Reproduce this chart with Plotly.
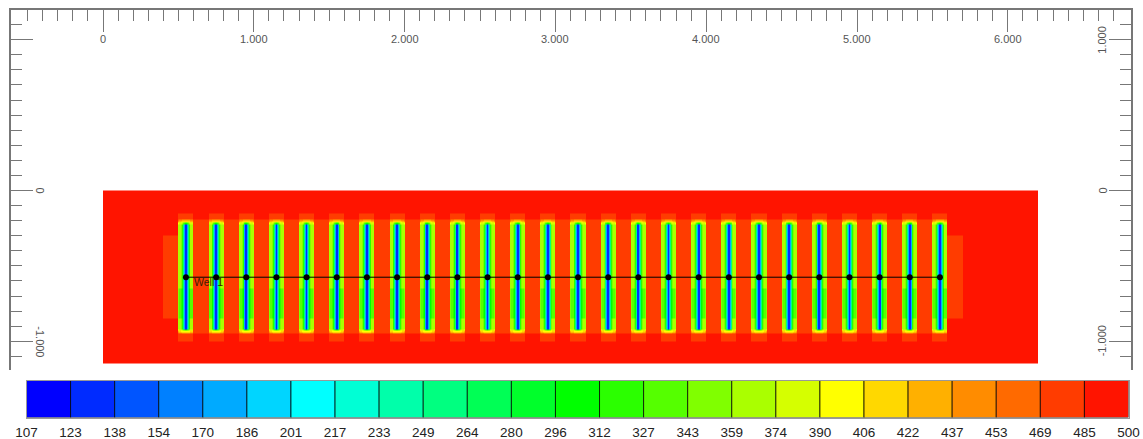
import numpy as np
import plotly.graph_objects as go

W, H = 1143, 439

# colour legend
legend_labels = [107,123,138,154,170,186,201,217,233,249,264,280,296,312,327,343,359,374,390,406,422,437,453,469,485,500]
legend_colors = ["#0000ff","#002bff","#0055ff","#0080ff","#00aaff","#00d5ff","#00ffff","#00ffd5","#00ffaa","#00ff80",
                 "#00ff55","#00ff2b","#00ff00","#2bff00","#55ff00","#80ff00","#aaff00","#d5ff00","#ffff00","#ffd800",
                 "#ffb000","#ff8c00","#ff6a00","#ff3c00","#ff1400"]
level_mid = [115,130,146,162,178,193,209,225,241,256,272,288,304,319,335,351,366,382,398,414,429,445,461,477,492]

# wells / fractures
well_x = [550,750,950,1150,1350,1550,1750,1950,2150,2350,2550,2750,2950,3150,3350,3550,3750,3950,4150,4350,4550,4750,4950,5150,5350,5550]
well_y = [-575]*26
well_name = "Well 1"

# grid rows (m), bottom to top
row_edges = [-1150,-1000,-950,-940,-930,-920,-850,-650,-500,-300,-225,-215,-205,-195,-150,0]
# fracture column half widths, centre outward (m)
frac_half = [6,12,18,24,30,44,50]
# colour level per fracture column, centre outward, for every row
frac_rows = [
    [24,24,24,24,24,24,24],
    [23,23,23,23,23,23,23],
    [20,20,20,20,21,21,22],
    [18,18,18,18,18,19,20],
    [12,13,14,16,17,17,18],
    [1,4,9,13,15,16,16],
    [1,4,9,12,13,14,15],
    [1,4,9,13,15,16,16],
    [1,4,9,13,15,16,16],
    [1,4,9,13,15,16,16],
    [12,13,14,16,17,17,18],
    [18,18,18,18,18,19,20],
    [20,20,20,20,21,21,22],
    [23,23,23,23,23,23,23],
    [24,24,24,24,24,24,24],
]
gap_rows =   [24,24,23,23,23,23,23,23,23,23,23,23,23,24,24]
block_rows = [24,24,24,24,24,24,23,23,23,24,24,24,24,24,24]
outer_rows = [24]*15
domain_x = [0,400,6200]

# tick values
x_major = [0,1000,2000,3000,4000,5000,6000]
x_major_text = ["0","1.000","2.000","3.000","4.000","5.000","6.000"]
x_minor = list(range(-500, 6800, 100))
y_major = [1000,0,-1000]
y_left_text = ["","0","-1.000"]
y_right_text = ["1.000","0","-1.000"]
y_minor = list(range(-1100, 1200, 100))

# ---- build the grid
half = np.array(frac_half)
frac_off = np.r_[-half[::-1], 0, half]
x_edges = [domain_x[0], domain_x[1]]
col_kind = ["outer"]
x_edges.append(well_x[0] - 50); col_kind.append("block")
for i, wx in enumerate(well_x):
    for off in frac_off[1:]:
        x_edges.append(wx + off)
    col_kind += [("f", k) for k in [6,5,4,3,2,1,0,0,1,2,3,4,5,6]]
    if i < len(well_x) - 1:
        x_edges.append(well_x[i + 1] - 50); col_kind.append("gap")
x_edges.append(well_x[-1] + 150); col_kind.append("block")
x_edges.append(domain_x[2]); col_kind.append("outer")

z = []
for r in range(len(row_edges) - 1):
    row = []
    for k in col_kind:
        if k == "outer":
            lv = outer_rows[r]
        elif k == "block":
            lv = block_rows[r]
        elif k == "gap":
            lv = gap_rows[r]
        else:
            lv = frac_rows[r][k[1]]
        row.append(level_mid[lv])
    z.append(row)

lo, hi = legend_labels[0], legend_labels[-1]
scale = []
for i, c in enumerate(legend_colors):
    scale.append([(legend_labels[i] - lo) / (hi - lo), c])
    scale.append([(legend_labels[i + 1] - lo) / (hi - lo), c])

# ---- pixel frame helpers (window pixels to figure fractions)
def fx(p): return p / W
def fy(p): return 1 - p / H
PX_PER_M = 0.1508
x_range = [(11 - 103) / PX_PER_M, (1131 - 103) / PX_PER_M]
y_range = [(190.5 - 370) / PX_PER_M, (190.5 - 10) / PX_PER_M]

fig = go.Figure()
fig.add_trace(go.Heatmap(x=x_edges, y=row_edges, z=z, colorscale=scale, zmin=lo, zmax=hi,
                         showscale=False, hoverinfo="skip", xaxis="x", yaxis="y"))
fig.add_trace(go.Scatter(x=well_x, y=well_y, mode="lines+markers", xaxis="x", yaxis="y",
                         line=dict(color="black", width=1), marker=dict(color="black", size=6),
                         showlegend=False, hoverinfo="skip"))
# invisible carrier for the right axis
fig.add_trace(go.Scatter(x=[well_x[0]], y=[well_y[0]], mode="markers", xaxis="x", yaxis="y2",
                         marker=dict(opacity=0), showlegend=False, hoverinfo="skip"))
fig.add_trace(go.Bar(x=[i + 0.5 for i in range(len(legend_colors))], y=[1] * len(legend_colors), width=1,
                     marker=dict(color=legend_colors, line=dict(color="rgba(0,0,0,0.75)", width=1)),
                     xaxis="x3", yaxis="y3", showlegend=False, hoverinfo="skip"))

axis_font = dict(family="Liberation Sans, Arial, sans-serif", size=11, color="#555555")
line_col = "#777777"
x_minor_style = dict(ticks="inside", ticklen=11, tickwidth=1, tickcolor=line_col, tickmode="array", tickvals=x_minor, showgrid=False)
y_minor_style = dict(ticks="inside", ticklen=11, tickwidth=1, tickcolor=line_col, tickmode="array", tickvals=y_minor, showgrid=False)

annotations = [dict(x=600, y=-605, xref="x", yref="y", text=well_name, showarrow=False, xanchor="left", yanchor="middle",
                    xshift=-1, font=dict(family="Liberation Sans, Arial, sans-serif", size=10.5, color="#402000"))]
for v, t in zip(x_major, x_major_text):
    annotations.append(dict(x=v, y=fy(39.5), xref="x", yref="paper", text=t, showarrow=False, xanchor="center", yanchor="middle", font=axis_font))
for v, t in zip(y_major, y_left_text):
    if t:
        annotations.append(dict(x=fx(40), y=v, xref="paper", yref="y", text=t, showarrow=False, textangle=90, xanchor="center", yanchor="middle", font=axis_font))
for v, t in zip(y_major, y_right_text):
    annotations.append(dict(x=fx(1102), y=v, xref="paper", yref="y", text=t, showarrow=False, textangle=-90, xanchor="center", yanchor="middle", font=axis_font))

fig.update_layout(
    width=W, height=H, margin=dict(l=0, r=0, t=0, b=0, autoexpand=False),
    paper_bgcolor="white", plot_bgcolor="white", showlegend=False,
    xaxis=dict(domain=[fx(11), fx(1131)], range=x_range, side="top", anchor="y", showgrid=False, zeroline=False, automargin=False,
               showline=True, linecolor=line_col, linewidth=2, ticks="inside", ticklen=22, tickcolor=line_col,
               tickvals=x_major, showticklabels=False, minor=x_minor_style),
    yaxis=dict(domain=[fy(370), fy(10)], range=y_range, anchor="x", side="left", showgrid=False, zeroline=False, automargin=False,
               showline=True, linecolor=line_col, linewidth=2, ticks="inside", ticklen=22, tickcolor=line_col,
               tickvals=y_major, showticklabels=False, minor=y_minor_style),
    yaxis2=dict(domain=[fy(370), fy(10)], range=y_range, overlaying="y", anchor="x", side="right", showgrid=False, zeroline=False, automargin=False,
                showline=True, linecolor=line_col, linewidth=2, ticks="inside", ticklen=22, tickcolor=line_col,
                tickvals=y_major, showticklabels=False, minor=y_minor_style),
    xaxis3=dict(domain=[fx(26.5), fx(1128.5)], range=[0, len(legend_colors)], anchor="y3", showgrid=False, zeroline=False, automargin=False,
                showline=True, mirror=True, linecolor="#999999", linewidth=1, ticks="", ticklabelstandoff=2,
                tickvals=list(range(len(legend_labels))), ticktext=[str(v) for v in legend_labels],
                tickfont=dict(family="Liberation Sans, Arial, sans-serif", size=13.5, color="#222222")),
    yaxis3=dict(domain=[fy(417.5), fy(380.5)], range=[0, 1], anchor="x3", showgrid=False, zeroline=False, automargin=False,
                showline=True, mirror=True, linecolor="#999999", linewidth=1, ticks="", showticklabels=False),
    annotations=annotations,
)
fig.write_html("out.html", config=dict(displayModeBar=False),
               post_script="document.body.style.margin='0';document.documentElement.style.overflow='hidden';")
